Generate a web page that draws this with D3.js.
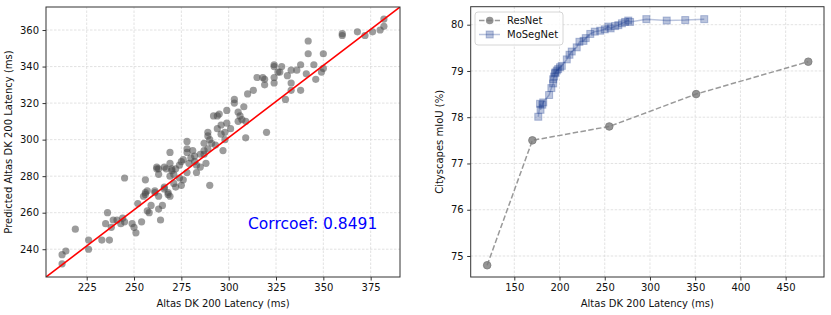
<!DOCTYPE html>
<html>
<head>
<meta charset="utf-8">
<script src="https://cdn.jsdelivr.net/npm/d3@7"></script>
<style>
  body { margin: 0; background: #fff; }
  svg { font-family: "DejaVu Sans", sans-serif; }
</style>
</head>
<body>
<div id="chart"></div>
<script>
// left panel: measured vs predicted latency (ms)
const latencyPoints = [
  [212,232],[212,237],[214,239],[219,251],[226,240],[226,245],[233,245],[237,245],
  [235,254],[236,260],[239,256],[238,252],[241,256],[243,254],[244,257],[245,255],
  [245,279],[249,254],[250,252],[251,249],[254,255],[252,265],[255,269],[256,278],
  [256,271],[257,272],[258,260],[257,261],[259,264],[261,271],[262,284],[263,281],
  [264,256],[263,262],[263,269],[265,264],[266,274],[267,284],[268,271],[269,280],
  [269,287],[270,283],[269,269],[262,285],[269,293],[256,270],
  [324,340],[326,337],[315,334],[318,334],[319,333],[319,330],[324,334],[324,331],
  [310,325],[313,327],[303,322],[303,320],[308,318],[299,316],[295,314],[294,313],
  [292,313],[305,315],[306,313],[307,311],[305,310],[309,310],[299,309],[296,308],
  [294,306],[301,306],[298,304],[289,304],[289,302],[296,303],[320,304],[309,301],
  [298,300],[290,300],[291,298],[287,298],[278,299],[278,295],[289,295],[293,297],
  [287,294],[285,292],[281,294],[278,293],[297,294],[282,291],[280,290],[276,289],
  [279,287],[282,288],[283,286],[283,282],[285,285],[278,282],[274,286],[272,284],
  [266,285],[270,284],[263,284],[274,279],[271,276],[275,275],[290,275],[266,273],
  [272,274],[268,270],[261,272],[275,288],[287,292],[288,287],[276,278],[271,281],
  [382,366],[382,362],[380,360],[376,359],[372,357],[368,359],[360,358],[360,357],
  [342,354],[342,347],[350,347],[345,341],[350,339],[341,336],[349,337],[346,333],
  [338,341],[338,327],[336,338],[333,338],[331,335],[333,331],[333,327],[330,322],
  [328,340],[324,341],[327,337]
];
const fitSlope = 0.7904;
const fitIntercept = 63.95;
const corrText = "Corrcoef: 0.8491";
const leftXTicks = [225, 250, 275, 300, 325, 350, 375];
const leftYTicks = [240, 260, 280, 300, 320, 340, 360];

// right panel: latency vs mIoU
const resnetLatency = [120, 170, 255, 351, 475];
const resnetMiou = [74.8, 77.5, 77.8, 78.5, 79.2];
const mosegLatency = [176.5,178.5,179,181,182,188.5,191,193,193,194,195,195.5,197,198.5,
  200.5,202.5,208,211,213.5,219,222,226.5,229,234,239,245,250,254,256.5,261.5,265,269,
  272.5,276,278,296,318.5,339,360];
const mosegMiou = [78.01,78.29,78.16,78.27,78.32,78.48,78.63,78.73,78.82,78.88,78.95,78.97,
  79.01,79.04,79.08,79.11,79.25,79.35,79.42,79.51,79.63,79.65,79.71,79.8,79.85,79.87,79.9,
  79.96,79.92,79.97,79.99,80.03,80.06,80.09,80.06,80.12,80.09,80.1,80.12];
const rightXTicks = [150, 200, 250, 300, 350, 400, 450];
const rightYTicks = [75, 76, 77, 78, 79, 80];

const W = 831, H = 315;
const svg = d3.select("#chart").append("svg").attr("width", W).attr("height", H);

const gridColor = "#dadada";
const spineColor = "#333";
const mosegColor = "#1b3d8f";

function drawFrame(g, x, y, xTicks, yTicks, xLabel, yLabel, yLabelX) {
  const [x0, x1] = x.range();
  const [y0, y1] = y.range();
  // grid
  g.append("g").selectAll("line").data(xTicks).join("line")
    .attr("x1", d => x(d)).attr("x2", d => x(d)).attr("y1", y0).attr("y2", y1)
    .attr("stroke", gridColor).attr("stroke-width", 0.8).attr("stroke-dasharray", "2.5,1.5");
  g.append("g").selectAll("line").data(yTicks).join("line")
    .attr("y1", d => y(d)).attr("y2", d => y(d)).attr("x1", x0).attr("x2", x1)
    .attr("stroke", gridColor).attr("stroke-width", 0.8).attr("stroke-dasharray", "2.5,1.5");

  const fmt = d3.format("d");
  const xAxis = g.append("g").attr("transform", `translate(0,${y0})`)
    .call(d3.axisBottom(x).tickValues(xTicks).tickFormat(fmt).tickSize(3.5).tickPadding(3.5));
  const yAxis = g.append("g").attr("transform", `translate(${x0},0)`)
    .call(d3.axisLeft(y).tickValues(yTicks).tickFormat(fmt).tickSize(3.5).tickPadding(3.5));
  [xAxis, yAxis].forEach(a => {
    a.select(".domain").remove();
    a.selectAll("text").attr("font-size", 10).attr("fill", "#111")
      .attr("font-family", "DejaVu Sans, sans-serif");
    a.selectAll("line").attr("stroke", spineColor);
  });

  g.append("text").attr("x", (x0 + x1) / 2).attr("y", y0 + 30)
    .attr("text-anchor", "middle").attr("font-size", 10).attr("fill", "#111").text(xLabel);
  g.append("text")
    .attr("transform", `translate(${yLabelX},${(y0 + y1) / 2}) rotate(-90)`)
    .attr("text-anchor", "middle").attr("font-size", 10).attr("fill", "#111").text(yLabel);
  return g;
}

function drawSpines(g, x, y) {
  const [x0, x1] = x.range();
  const [y0, y1] = y.range();
  g.append("rect").attr("x", x0).attr("y", y1).attr("width", x1 - x0).attr("height", y0 - y1)
    .attr("fill", "none").attr("stroke", spineColor).attr("stroke-width", 1);
}

// ---------- left panel ----------
const xL = d3.scaleLinear().domain([203.5, 390.5]).range([46, 400]);
const yL = d3.scaleLinear().domain([224.8, 372.6]).range([277, 7]);
const left = svg.append("g");
drawFrame(left, xL, yL, leftXTicks, leftYTicks,
  "Altas DK 200 Latency (ms)", "Predicted Altas DK 200 Latency (ms)", 12);

svg.append("clipPath").attr("id", "clipL").append("rect")
  .attr("x", 46).attr("y", 7).attr("width", 354).attr("height", 270);

left.append("g").selectAll("circle").data(latencyPoints).join("circle")
  .attr("cx", d => xL(d[0])).attr("cy", d => yL(d[1])).attr("r", 3.6)
  .attr("fill", "#4a4a4a").attr("fill-opacity", 0.55);

const fitX = xL.domain();
left.append("line").attr("clip-path", "url(#clipL)")
  .attr("x1", xL(fitX[0])).attr("y1", yL(fitSlope * fitX[0] + fitIntercept))
  .attr("x2", xL(fitX[1])).attr("y2", yL(fitSlope * fitX[1] + fitIntercept))
  .attr("stroke", "red").attr("stroke-width", 1.6);

left.append("text").attr("x", 248).attr("y", 229)
  .attr("font-size", 15.5).attr("fill", "blue").text(corrText);
drawSpines(left, xL, yL);

// ---------- right panel ----------
const xR = d3.scaleLinear().domain([101.8, 492.4]).range([470.7, 824]);
const yR = d3.scaleLinear().domain([74.546, 80.389]).range([277, 6.7]);
const right = svg.append("g");
drawFrame(right, xR, yR, rightXTicks, rightYTicks,
  "Altas DK 200 Latency (ms)", "Cityscapes mIoU (%)", 443);

const resnet = resnetLatency.map((v, i) => [v, resnetMiou[i]]);
const moseg = mosegLatency.map((v, i) => [v, mosegMiou[i]]);
const line = d3.line().x(d => xR(d[0])).y(d => yR(d[1]));

right.append("path").datum(resnet).attr("d", line)
  .attr("fill", "none").attr("stroke", "#999").attr("stroke-width", 1.5)
  .attr("stroke-dasharray", "5.5,2.4");
right.append("g").selectAll("circle").data(resnet).join("circle")
  .attr("cx", d => xR(d[0])).attr("cy", d => yR(d[1])).attr("r", 3.8)
  .attr("fill", "#7a7a7a").attr("fill-opacity", 0.8)
  .attr("stroke", "#7a7a7a").attr("stroke-opacity", 0.8);

right.append("path").datum(moseg).attr("d", line)
  .attr("fill", "none").attr("stroke", mosegColor).attr("stroke-width", 1.5)
  .attr("stroke-opacity", 0.3);
const sq = 7;
right.append("g").selectAll("rect").data(moseg).join("rect")
  .attr("x", d => xR(d[0]) - sq / 2).attr("y", d => yR(d[1]) - sq / 2)
  .attr("width", sq).attr("height", sq)
  .attr("fill", mosegColor).attr("fill-opacity", 0.3)
  .attr("stroke", mosegColor).attr("stroke-opacity", 0.3).attr("stroke-width", 1);

// legend
const lg = right.append("g").attr("transform", "translate(475,12)");
lg.append("rect").attr("width", 88).attr("height", 33).attr("rx", 3)
  .attr("fill", "#fff").attr("fill-opacity", 0.8).attr("stroke", "#ccc").attr("stroke-width", 0.8);
const legendItems = [
  { name: "ResNet", shape: "circle" },
  { name: "MoSegNet", shape: "square" }
];
legendItems.forEach((it, i) => {
  const cy = 8.5 + i * 14;
  const row = lg.append("g").attr("transform", `translate(0,${cy})`);
  if (it.shape === "circle") {
    row.append("line").attr("x1", 4).attr("x2", 25).attr("stroke", "#999")
      .attr("stroke-width", 1.5).attr("stroke-dasharray", "5.5,2.4");
    row.append("circle").attr("cx", 14.7).attr("r", 3.8)
      .attr("fill", "#7a7a7a").attr("fill-opacity", 0.8);
  } else {
    row.append("line").attr("x1", 4).attr("x2", 25).attr("stroke", mosegColor)
      .attr("stroke-width", 1.5).attr("stroke-opacity", 0.3);
    row.append("rect").attr("x", 14.7 - sq / 2).attr("y", -sq / 2).attr("width", sq).attr("height", sq)
      .attr("fill", mosegColor).attr("fill-opacity", 0.3)
      .attr("stroke", mosegColor).attr("stroke-opacity", 0.3);
  }
  row.append("text").attr("x", 32).attr("dy", "0.35em").attr("font-size", 10)
    .attr("fill", "#111").text(it.name);
});
drawSpines(right, xR, yR);
</script>
</body>
</html>
